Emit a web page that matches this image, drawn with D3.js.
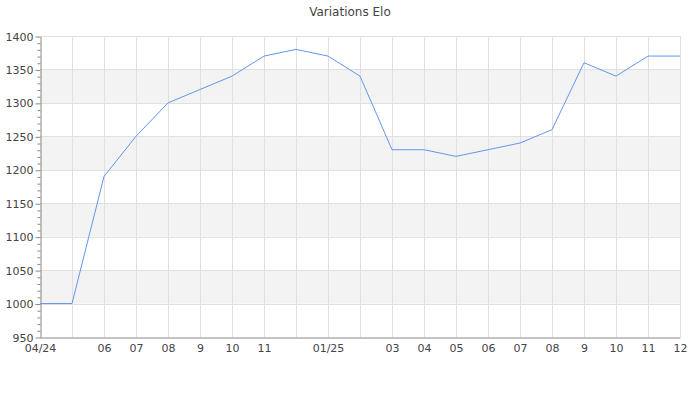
<!DOCTYPE html>
<html>
<head>
<meta charset="utf-8">
<script src="https://cdn.jsdelivr.net/npm/d3@7"></script>
<style>
  body { margin: 0; background: #fff; }
  svg text { font-family: "DejaVu Sans", sans-serif; fill: #444; }
</style>
</head>
<body>
<div id="chart"></div>
<script>
// data
var months = ["04/24", "", "06", "07", "08", "9", "10", "11", "", "01/25", "",
              "03", "04", "05", "06", "07", "08", "9", "10", "11", "12"];
var elo = [1000, 1000, 1190, 1250, 1300, 1320, 1340, 1370, 1380, 1370, 1340,
           1230, 1230, 1220, 1230, 1240, 1260, 1360, 1340, 1370, 1370];
var yTicks = [950, 1000, 1050, 1100, 1150, 1200, 1250, 1300, 1350, 1400];

var w = 700, h = 400;
var plotLeft = 40, plotRight = 680, plotTop = 36, plotBottom = 337;

var svg = d3.select("#chart").append("svg")
    .attr("width", w)
    .attr("height", h);

var x = d3.scalePoint()
    .domain(d3.range(elo.length))
    .range([plotLeft, plotRight]);
var y = d3.scaleLinear()
    .domain([950, 1400])
    .range([plotBottom, plotTop]);

// alternating bands
var bands = yTicks.slice(0, -1).filter(function(d, i) { return i % 2 == 1; });
svg.selectAll("rect.band")
    .data(bands)
    .enter()
    .append("rect")
    .attr("class", "band")
    .attr("x", plotLeft)
    .attr("width", plotRight - plotLeft)
    .attr("y", function(d) { return y(d + 50); })
    .attr("height", function(d) { return y(d) - y(d + 50); })
    .attr("fill", "#f3f3f3");

// grid
svg.selectAll("line.hgrid")
    .data(yTicks.slice(1))
    .enter()
    .append("line")
    .attr("x1", plotLeft).attr("x2", plotRight)
    .attr("y1", function(d) { return Math.round(y(d)) + 0.5; })
    .attr("y2", function(d) { return Math.round(y(d)) + 0.5; })
    .attr("stroke", "#e0e0e0");
svg.selectAll("line.vgrid")
    .data(d3.range(1, elo.length))
    .enter()
    .append("line")
    .attr("x1", function(d) { return x(d) + 0.5; })
    .attr("x2", function(d) { return x(d) + 0.5; })
    .attr("y1", plotTop).attr("y2", plotBottom)
    .attr("stroke", "#e0e0e0");

// y axis with minor ticks
var minor = d3.range(950, 1401, 10).filter(function(d) { return d % 50 != 0; });
svg.append("g")
    .attr("transform", "translate(" + (plotLeft + 0.5) + ",0.5)")
    .call(d3.axisLeft(y).tickValues(minor).tickSize(3).tickFormat(""))
    .call(function(g) { g.select(".domain").remove(); })
    .selectAll("line").attr("stroke", "#888");
var yAxis = svg.append("g")
    .attr("transform", "translate(" + (plotLeft + 0.5) + ",0.5)")
    .call(d3.axisLeft(y).tickValues(yTicks).tickSize(5).tickSizeOuter(0).tickPadding(2)
        .tickFormat(d3.format("d")));
yAxis.select(".domain").attr("stroke", "#888");
yAxis.selectAll("line").attr("stroke", "#888");
yAxis.selectAll("text")
    .attr("font-size", "11px")
    .attr("font-family", "DejaVu Sans, sans-serif")
    .attr("fill", "#444");

// x axis
var xAxis = svg.append("g")
    .attr("transform", "translate(0," + (plotBottom + 0.5) + ")")
    .call(d3.axisBottom(x).tickSize(0).tickSizeOuter(0).tickPadding(7)
        .tickFormat(function(i) { return months[i]; }));
xAxis.select(".domain").attr("stroke", "#888");
xAxis.selectAll("text")
    .attr("font-size", "11px")
    .attr("font-family", "DejaVu Sans, sans-serif")
    .attr("fill", "#444");

// line
var line = d3.line()
    .x(function(d, i) { return x(i); })
    .y(function(d) { return y(d); });
svg.append("path")
    .datum(elo)
    .attr("d", line)
    .attr("fill", "none")
    .attr("stroke", "#6495ed")
    .attr("stroke-width", 1);

// title
svg.append("text")
    .attr("x", 350)
    .attr("y", 16)
    .attr("text-anchor", "middle")
    .attr("font-size", "12px")
    .attr("fill", "#444")
    .text("Variations Elo");
</script>
</body>
</html>
